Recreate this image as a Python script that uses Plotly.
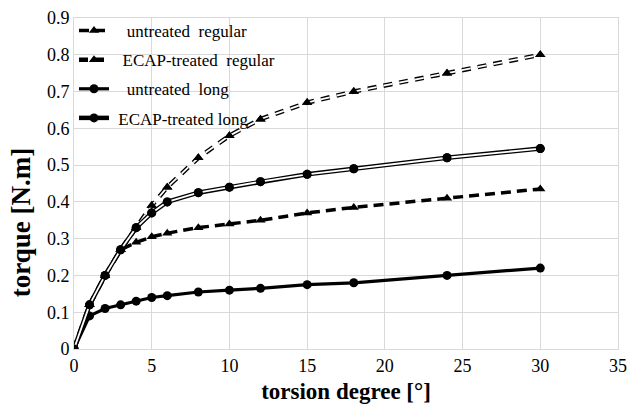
import plotly.graph_objects as go

deg = [0, 1, 2, 3, 4, 5, 6, 8, 10, 12, 15, 18, 24, 30]
untreated_regular = [0, 0.12, 0.20, 0.27, 0.29, 0.305, 0.315, 0.33, 0.34, 0.35, 0.37, 0.385, 0.41, 0.435]
ecap_regular = [0, 0.12, 0.20, 0.27, 0.33, 0.39, 0.44, 0.52, 0.58, 0.625, 0.67, 0.70, 0.75, 0.80]
untreated_long = [0, 0.09, 0.11, 0.12, 0.13, 0.14, 0.145, 0.155, 0.16, 0.165, 0.175, 0.18, 0.20, 0.22]
ecap_long = [0, 0.12, 0.20, 0.27, 0.33, 0.37, 0.40, 0.425, 0.44, 0.455, 0.475, 0.49, 0.52, 0.545]
names = ["&nbsp;&nbsp;&nbsp;untreated&nbsp;&nbsp;regular",
         "&nbsp;&nbsp;ECAP-treated&nbsp;&nbsp;regular",
         "&nbsp;&nbsp;&nbsp;untreated&nbsp;&nbsp;long",
         "&nbsp;ECAP-treated long"]

SERIF = "Liberation Serif, Times New Roman, serif"
fig = go.Figure()

# untreated regular: thick dashed, triangles
fig.add_trace(go.Scatter(x=deg, y=untreated_regular, name=names[0], legendgroup="a",
                         mode="lines+markers",
                         line=dict(color="black", width=3.5, dash="10px,6px"),
                         marker=dict(symbol="triangle-up", size=9, color="black")))

# ECAP regular: double dashed line, triangles
fig.add_trace(go.Scatter(x=deg, y=ecap_regular, name=names[1], legendgroup="b",
                         mode="lines+markers",
                         line=dict(color="black", width=4.5, dash="9px,7px"),
                         marker=dict(symbol="triangle-up", size=9, color="black")))
fig.add_trace(go.Scatter(x=deg, y=ecap_regular, legendgroup="b", showlegend=False,
                         mode="lines", hoverinfo="skip",
                         line=dict(color="white", width=1.8, dash="9px,7px")))
fig.add_trace(go.Scatter(x=deg, y=ecap_regular, legendgroup="b", showlegend=False,
                         mode="markers", hoverinfo="skip",
                         marker=dict(symbol="triangle-up", size=9, color="black")))

# untreated long: thick solid, circles
fig.add_trace(go.Scatter(x=deg, y=untreated_long, name=names[2], legendgroup="c",
                         mode="lines+markers",
                         line=dict(color="black", width=3.2),
                         marker=dict(symbol="circle", size=9, color="black")))

# ECAP long: double solid line, circles
fig.add_trace(go.Scatter(x=deg, y=ecap_long, name=names[3], legendgroup="d",
                         mode="lines+markers",
                         line=dict(color="black", width=4.5),
                         marker=dict(symbol="circle", size=9, color="black")))
fig.add_trace(go.Scatter(x=deg, y=ecap_long, legendgroup="d", showlegend=False,
                         mode="lines", hoverinfo="skip",
                         line=dict(color="white", width=1.8)))
fig.add_trace(go.Scatter(x=deg, y=ecap_long, legendgroup="d", showlegend=False,
                         mode="markers", hoverinfo="skip",
                         marker=dict(symbol="circle", size=9, color="black")))

grid = "#d9d9d9"
fig.update_layout(
    width=635, height=408,
    margin=dict(l=74, r=8, t=17, b=54),
    paper_bgcolor="white", plot_bgcolor="white",
    font=dict(family=SERIF, color="black", size=17),
    showlegend=True,
    legend=dict(x=0.0, y=1.015, xanchor="left", yanchor="top",
                bgcolor="rgba(255,255,255,0)", font=dict(family=SERIF, size=17),
                tracegroupgap=4),
    xaxis=dict(range=[0, 35], dtick=5, tick0=0, showgrid=True, gridcolor=grid, gridwidth=1,
               showline=True, linecolor=grid, mirror=True, zeroline=False,
               ticks="", tickfont=dict(family=SERIF, size=18),
               title=dict(text="<b>torsion degree [°]</b>", font=dict(family=SERIF, size=23), standoff=8)),
    yaxis=dict(range=[0, 0.9], dtick=0.1, tick0=0, showgrid=True, gridcolor=grid, gridwidth=1,
               showline=True, linecolor=grid, mirror=True, zeroline=False,
               ticks="", tickfont=dict(family=SERIF, size=18)),
    annotations=[dict(text="<b>torque [N.m]</b>", textangle=-90, showarrow=False,
                      xref="paper", yref="paper", x=0, y=0.38, xanchor="center", yanchor="middle",
                      xshift=-53, font=dict(family=SERIF, size=27))],
)

fig.write_html("out.html")
